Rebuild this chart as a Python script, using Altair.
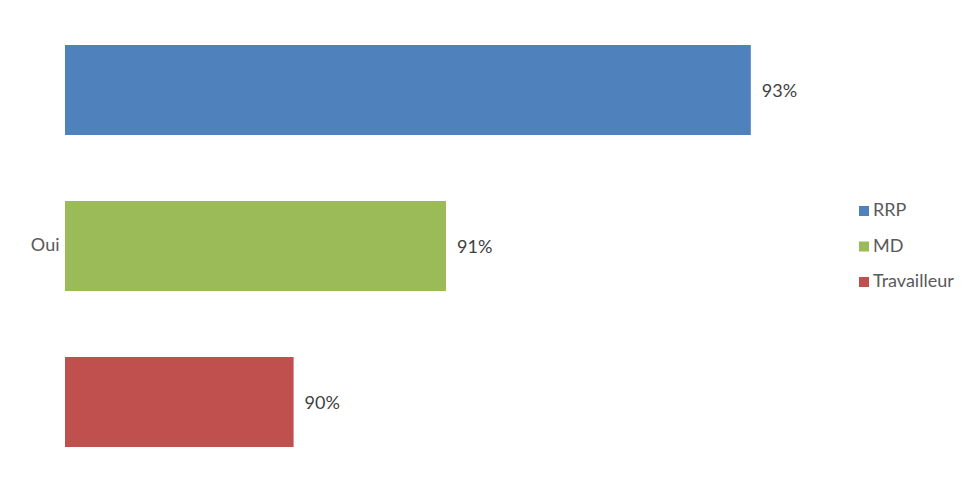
import altair as alt
import pandas as pd

categories = ["Oui", "Oui", "Oui"]
series = ["RRP", "MD", "Travailleur"]
values = [0.93, 0.91, 0.90]
colors = ["#4F81BD", "#9BBB59", "#C0504D"]
axis_min = 0.885

df = pd.DataFrame({"cat": categories, "series": series, "value": values})

FONT = "Lato"
FS = 18
x_scale = alt.Scale(domain=[axis_min, 0.935], zero=False, nice=False)

base = alt.Chart(df).encode(
    y=alt.Y("cat:N", title=None,
            scale=alt.Scale(paddingInner=0, paddingOuter=0),
            axis=alt.Axis(ticks=False, domain=False, labelFontSize=FS, labelFont=FONT,
                          labelColor="#595959", labelPadding=6, grid=False)),
    yOffset=alt.YOffset("series:N", sort=series,
                        scale=alt.Scale(paddingInner=0.423, paddingOuter=0.2115)),
)

bars = base.mark_bar(clip=True).encode(
    x=alt.X("value:Q", scale=x_scale, axis=None),
    x2=alt.datum(axis_min),
    color=alt.Color("series:N", sort=series,
                    scale=alt.Scale(domain=series, range=colors),
                    legend=alt.Legend(title=None, orient="none", legendX=790, legendY=190,
                                      symbolType="square", symbolSize=100,
                                      symbolStrokeWidth=0, labelFontSize=FS,
                                      labelFont=FONT, labelColor="#595959",
                                      rowPadding=17.5, labelOffset=0)),
)

labels = base.mark_text(align="left", baseline="middle", dx=11, dy=1.5, fontSize=FS,
                        font=FONT, color="#404040").encode(
    x=alt.X("value:Q", scale=x_scale, axis=None),
    text=alt.Text("value:Q", format=".0%"),
)

chart = (bars + labels).properties(
    width=762, height=468,
    autosize=alt.AutoSizeParams(type="none"),
    padding={"left": 57, "top": 4, "right": 140, "bottom": 4},
).configure(background="white").configure_view(stroke=None)

chart.save("out.html", embed_options={"renderer": "svg", "actions": False})
